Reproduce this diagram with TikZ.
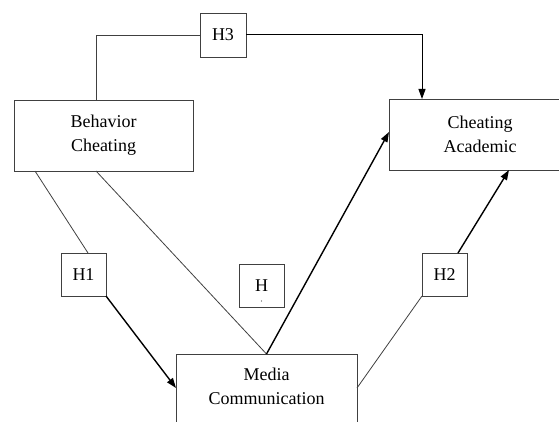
\documentclass[tikz,border=0pt]{standalone}
\usepackage{fontspec}
\setmainfont{Liberation Serif}
\usetikzlibrary{arrows.meta}
\begin{document}
\begin{tikzpicture}[x=1pt,y=-1pt,
  box/.style={draw=black!75, line width=0.9pt, inner sep=0pt, outer sep=0pt, align=center,
    font=\fontsize{18}{24}\selectfont},
  bigbox/.style={box, minimum width=179pt, minimum height=71pt},
  hbox/.style={box, minimum width=45pt, minimum height=43pt},
  plain/.style={draw=black!75, line width=0.8pt},
  arr/.style={draw=black, line width=1.4pt, -{Triangle[length=10pt,width=7pt]}}]
\useasboundingbox (0,0) rectangle (559,422);
\clip (0,0) rectangle (559,422);
\node[bigbox] (bc) at (103.5,135.5) {Behavior\\Cheating};
\node[bigbox, minimum width=182pt] (ca) at (480,134.5) {Cheating\\Academic};
\node[bigbox, minimum width=181pt, minimum height=78pt] (mc) at (266.5,393) {Media\\Communication\\[-10pt]\mbox{}};
\node[hbox, minimum width=46pt, minimum height=44pt] (h3) at (223,35) {H3};
\node[hbox] (h1) at (83.5,274.5) {H1};
\node[hbox] (h) at (261.5,285.5) {H};
\fill[black!70] ([yshift=6pt]h.south) circle (0.6pt);
\node[hbox] (h2) at (444.5,274.5) {H2};
% H3 path
\draw[plain] ([xshift=82pt]bc.north west) |- (h3.west);
\draw[arr, line width=1pt] (h3.east) -| ([xshift=33pt]ca.north west);
% H1 path
\draw[plain] ([xshift=21pt]bc.south west) -- ([xshift=4.5pt]h1.north);
\draw[arr] (h1.south east) -- ([yshift=-34pt]mc.north west);
% H path
\draw[plain] ([xshift=82pt]bc.south west) -- (mc.north);
\draw[arr] (mc.north) -- ([yshift=-33pt]ca.north west);
% H2 path
\draw[plain] ([yshift=-34pt]mc.north east) -- (h2.south west);
\draw[arr] ([xshift=13.5pt]h2.north) -- ([xshift=120pt]ca.south west);
\end{tikzpicture}
\end{document}
